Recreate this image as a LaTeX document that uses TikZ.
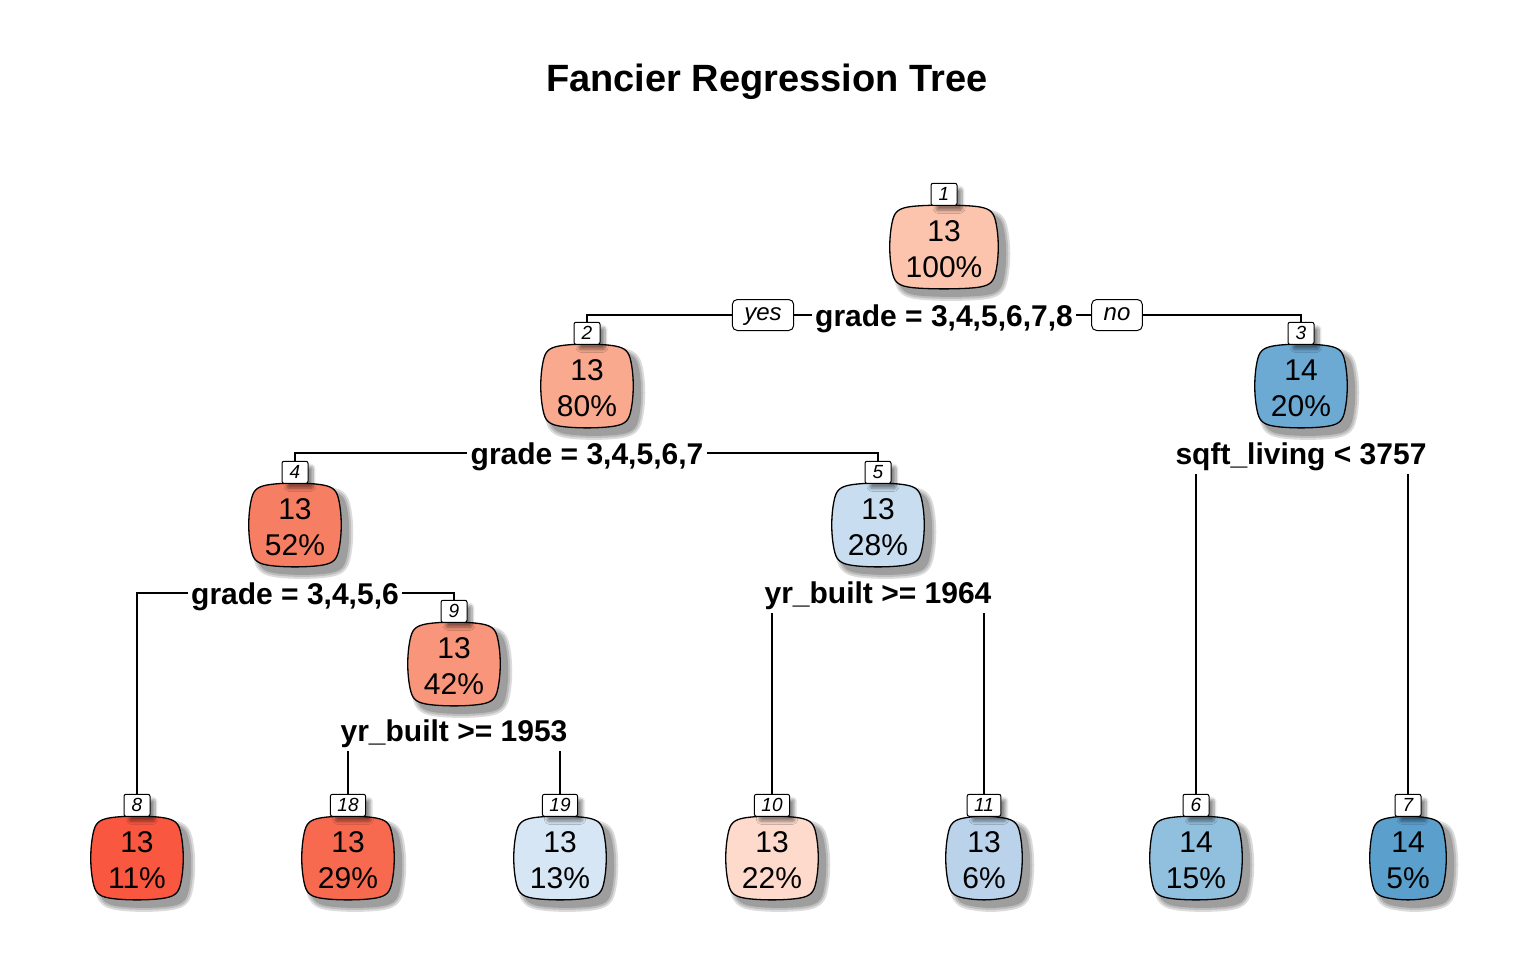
\documentclass[tikz,border=0pt]{standalone}
\usepackage{fontspec}
\setmainfont{Liberation Sans}
\usetikzlibrary{shadows.blur}
\definecolor{n1}{HTML}{FCC3AD}
\definecolor{n2}{HTML}{F9A98D}
\definecolor{n3}{HTML}{6CA9D3}
\definecolor{n4}{HTML}{F57E63}
\definecolor{n5}{HTML}{C8DDF0}
\definecolor{n6}{HTML}{91BFDE}
\definecolor{n7}{HTML}{5B9FCD}
\definecolor{n8}{HTML}{FA5740}
\definecolor{n9}{HTML}{F8957A}
\definecolor{n10}{HTML}{FDDACC}
\definecolor{n11}{HTML}{BAD3EB}
\definecolor{n18}{HTML}{F86A50}
\definecolor{n19}{HTML}{D6E6F4}
% outline of a rounded barrel box of half width #1
\newcommand\barreloutline[1]{(-#1+16,-40) .. controls (-#1+30,-42.5) and (#1-30,-42.5) .. (#1-16,-40) .. controls (#1-5,-38) and (#1-2,-34) .. (#1,-24) .. controls (#1+3,-9) and (#1+3,9) .. (#1,24) .. controls (#1-2,34) and (#1-5,38) .. (#1-16,40) .. controls (#1-30,42.5) and (-#1+30,42.5) .. (-#1+16,40) .. controls (-#1+5,38) and (-#1+2,34) .. (-#1,24) .. controls (-#1-3,9) and (-#1-3,-9) .. (-#1,-24) .. controls (-#1+2,-34) and (-#1+5,-38) .. (-#1+16,-40) -- cycle}
% x, y, half width, fill colour
\newcommand\barrelbox[4]{%
  \begin{scope}[shift={(#1,#2)}]
    \begin{scope}[shift={(7,7)}]
      \filldraw[black!14,line width=10pt] \barreloutline{#3};
      \filldraw[black!26,line width=6pt] \barreloutline{#3};
      \filldraw[black!38,line width=2pt] \barreloutline{#3};
    \end{scope}
    \filldraw[fill=#4,line width=1.3pt] \barreloutline{#3};
  \end{scope}}
\tikzset{
  softshadow/.style={blur shadow={shadow xshift=5pt,shadow yshift=-5pt,shadow blur steps=8,shadow blur radius=3pt,shadow opacity=45}},
  boxtext/.style={minimum width=88pt,minimum height=82pt,inner sep=0pt,align=center,font=\fontsize{30}{36}\selectfont},
  tagbox/.style={draw,fill=white,line width=1pt,rounded corners=2pt,minimum width=26pt,minimum height=22pt,inner xsep=7pt,inner ysep=0pt,anchor=south,yshift=2pt,font=\fontsize{19}{19}\selectfont\itshape,softshadow},
  splitlabel/.style={font=\fontsize{30}{30}\selectfont\bfseries,inner xsep=3pt,inner ysep=1pt,text height=22pt,text depth=0pt},
  yesno/.style={draw,fill=white,line width=1pt,rounded corners=5pt,minimum height=31pt,inner xsep=12pt,inner ysep=0pt,text height=12pt,text depth=2pt,font=\fontsize{24}{24}\selectfont\itshape},
  branch/.style={line width=1.3pt}
}
\begin{document}
\begin{tikzpicture}[x=1pt,y=-1pt]
\useasboundingbox (0,0) rectangle (1536,960);
\node[font=\fontsize{38}{38}\selectfont\bfseries] (title) at (767,82) {Fancier Regression Tree};

% boxes
\barrelbox{944}{247}{52}{n1}
\barrelbox{587}{386}{44}{n2}
\barrelbox{1301}{386}{44}{n3}
\barrelbox{295}{525}{44}{n4}
\barrelbox{878}{525}{44}{n5}
\barrelbox{454}{664}{44}{n9}
\barrelbox{137}{858}{44}{n8}
\barrelbox{348}{858}{44}{n18}
\barrelbox{560}{858}{44}{n19}
\barrelbox{772}{858}{44}{n10}
\barrelbox{984}{858}{36}{n11}
\barrelbox{1196}{858}{44}{n6}
\barrelbox{1408}{858}{36}{n7}

\node[boxtext,minimum width=104pt] (b1) at (944,249) {13\\100\%};
\node[boxtext] (b2) at (587,388) {13\\80\%};
\node[boxtext] (b3) at (1301,388) {14\\20\%};
\node[boxtext] (b4) at (295,527) {13\\52\%};
\node[boxtext] (b5) at (878,527) {13\\28\%};
\node[boxtext] (b9) at (454,666) {13\\42\%};
\node[boxtext] (b8) at (137,860) {13\\11\%};
\node[boxtext] (b18) at (348,860) {13\\29\%};
\node[boxtext] (b19) at (560,860) {13\\13\%};
\node[boxtext] (b10) at (772,860) {13\\22\%};
\node[boxtext,minimum width=72pt] (b11) at (984,860) {13\\6\%};
\node[boxtext] (b6) at (1196,860) {14\\15\%};
\node[boxtext,minimum width=72pt] (b7) at (1408,860) {14\\5\%};

% node numbers
\foreach \n in {1,2,3,4,5,9,8,18,19,10,11,6,7}
  \node[tagbox] (t\n) at (b\n.north) {\n};

% split labels
\node[splitlabel] (s1) at (944,315) {grade = 3,4,5,6,7,8};
\node[splitlabel] (s2) at (587,453) {grade = 3,4,5,6,7};
\node[splitlabel] (s3) at (1301,453) {sqft\_living < 3757};
\node[splitlabel] (s4) at (295,593) {grade = 3,4,5,6};
\node[splitlabel] (s5) at (878,592) {yr\_built >= 1964};
\node[splitlabel] (s9) at (454,730) {yr\_built >= 1953};
\node[yesno] (yes) at (763,315) {yes};
\node[yesno] (no) at (1117,315) {no};
\coordinate (s3b) at ([yshift=-9pt]s3.south);
\coordinate (s5b) at ([yshift=-9pt]s5.south);
\coordinate (s9b) at ([yshift=-9pt]s9.south);

% branches
\draw[branch] (t2.north) |- (yes.west);
\draw[branch] (yes.east) -- (s1.west);
\draw[branch] (s1.east) -- (no.west);
\draw[branch] (no.east) -| (t3.north);
\draw[branch] (t4.north) |- (s2.west);
\draw[branch] (s2.east) -| (t5.north);
\draw[branch] (t6.north) -- (t6.north |- s3b);
\draw[branch] (t7.north) -- (t7.north |- s3b);
\draw[branch] (t8.north) |- (s4.west);
\draw[branch] (s4.east) -| (t9.north);
\draw[branch] (t10.north) -- (t10.north |- s5b);
\draw[branch] (t11.north) -- (t11.north |- s5b);
\draw[branch] (t18.north) -- (t18.north |- s9b);
\draw[branch] (t19.north) -- (t19.north |- s9b);
\end{tikzpicture}
\end{document}
